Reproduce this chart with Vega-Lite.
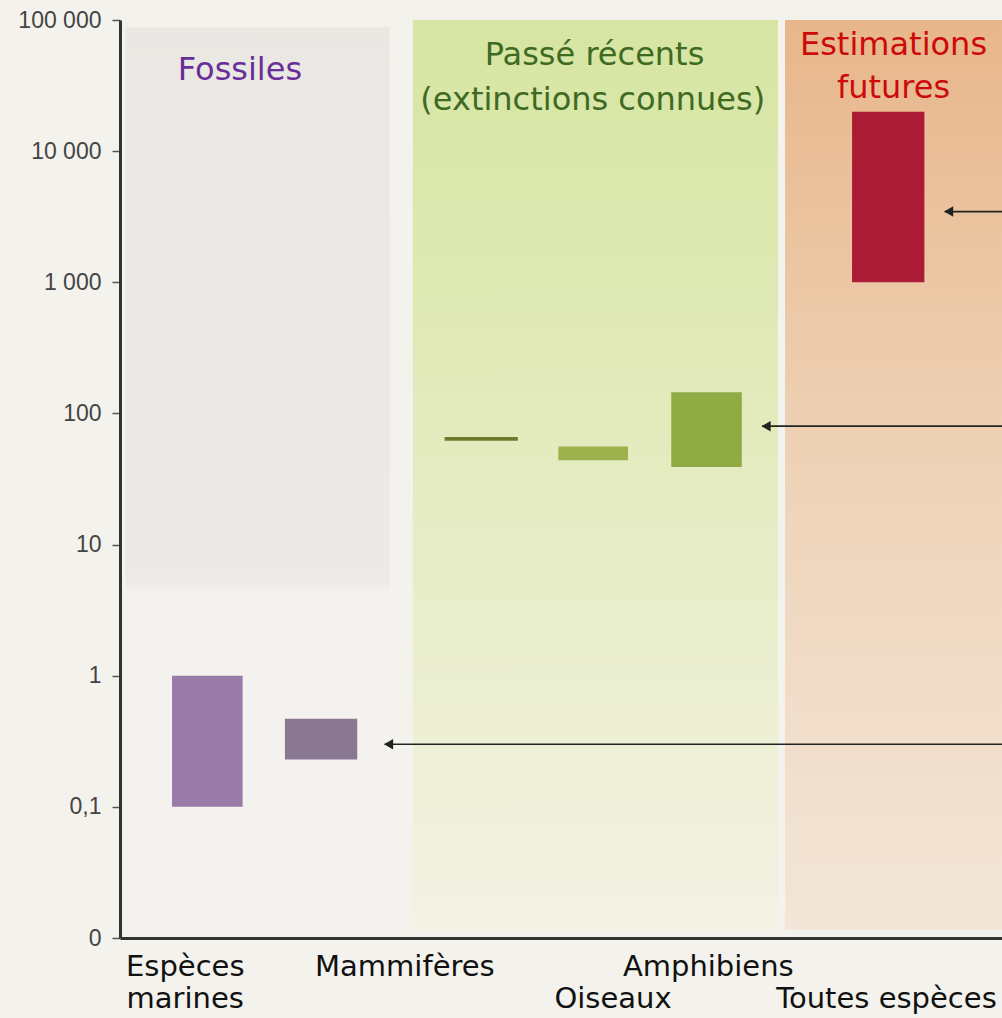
{
  "$schema": "https://vega.github.io/schema/vega-lite/v6.json",
  "width": 882,
  "height": 918,
  "autosize": {"type": "none"},
  "padding": {"left": 120, "top": 20, "right": 0, "bottom": 80},
  "background": "#f4f2ec",
  "config": {"view": {"stroke": null}},
  "resolve": {"scale": {"color": "independent"}},
  "datasets": {
    "panels": [
      {"panel": "Fossiles", "x0": 0.6, "x1": 30.6, "y0": 88000, "y1": 0.0115},
      {"panel": "Récents", "x0": 33.2, "x1": 74.6, "y0": 100000, "y1": 0.0115},
      {"panel": "Futures", "x0": 75.4, "x1": 100, "y0": 100000, "y1": 0.0115}
    ],
    "bars": [
      {"groupe": "Espèces marines (fossiles)", "x0": 5.9, "x1": 13.9, "min": 0.1, "max": 1},
      {"groupe": "Mammifères (fossiles)", "x0": 18.7, "x1": 26.9, "min": 0.23, "max": 0.47},
      {"groupe": "Mammifères (récents)", "x0": 36.8, "x1": 45.1, "min": 62, "max": 66},
      {"groupe": "Oiseaux", "x0": 49.7, "x1": 57.6, "min": 44, "max": 56},
      {"groupe": "Amphibiens", "x0": 62.5, "x1": 70.5, "min": 39, "max": 145},
      {"groupe": "Toutes espèces", "x0": 83.0, "x1": 91.2, "min": 1000, "max": 20000}
    ],
    "arrows": [
      {"x0": 93.5, "x1": 100, "v": 3460},
      {"x0": 72.8, "x1": 100, "v": 80},
      {"x0": 30.0, "x1": 100, "v": 0.30}
    ],
    "labels1": [
      {"t": "Espèces", "x": 7.4},
      {"t": "Mammifères", "x": 32.3},
      {"t": "Amphibiens", "x": 66.7}
    ],
    "labels2": [
      {"t": "marines", "x": 7.4},
      {"t": "Oiseaux", "x": 55.9},
      {"t": "Toutes espèces", "x": 86.9}
    ],
    "titles": [
      {"t": "Fossiles", "x": 13.6, "y": 41500, "g": "Fossiles"},
      {"t": "Passé récents", "x": 53.8, "y": 54000, "g": "Récents"},
      {"t": "(extinctions connues)", "x": 53.6, "y": 24500, "g": "Récents"},
      {"t": "Estimations", "x": 87.7, "y": 64500, "g": "Futures"},
      {"t": "futures", "x": 87.7, "y": 30200, "g": "Futures"}
    ]
  },
  "layer": [
    {
      "data": {"name": "panels"},
      "transform": [{"filter": "datum.panel == 'Fossiles'"}],
      "mark": {"type": "rect", "color": {"gradient": "linear", "x1": 0, "y1": 0, "x2": 0, "y2": 1,
        "stops": [{"offset": 0, "color": "#eae8e3"}, {"offset": 0.615, "color": "#eceae6"}, {"offset": 0.625, "color": "#f3f2ee"}, {"offset": 1, "color": "#f3f2ef"}]}},
      "encoding": {
        "x": {"field": "x0", "type": "quantitative", "scale": {"domain": [0, 100], "nice": false, "zero": false},
          "axis": {"labels": false, "ticks": false, "grid": false, "title": null, "domainWidth": 3, "domainColor": "#333"}},
        "x2": {"field": "x1"},
        "y": {"field": "y0", "type": "quantitative", "scale": {"type": "log", "domain": [0.01, 100000], "nice": false},
          "axis": {"values": [0.01, 0.1, 1, 10, 100, 1000, 10000, 100000], "grid": false, "title": null,
            "labelExpr": "datum.value == 100000 ? '100 000' : datum.value == 10000 ? '10 000' : datum.value == 1000 ? '1 000' : datum.value == 0.1 ? '0,1' : datum.value < 0.05 ? '0' : format(datum.value, 'd')",
            "labelFont": "Liberation Sans", "labelFontSize": 23, "labelColor": "#444", "tickSize": 8, "tickColor": "#555", "tickWidth": 1.5,
            "domainWidth": 3, "domainColor": "#333", "labelPadding": 11}},
        "y2": {"field": "y1"}
      }
    },
    {
      "data": {"name": "panels"},
      "transform": [{"filter": "datum.panel == 'Récents'"}],
      "mark": {"type": "rect", "color": {"gradient": "linear", "x1": 0, "y1": 0, "x2": 0, "y2": 1,
        "stops": [{"offset": 0, "color": "#d6e5a2"}, {"offset": 0.45, "color": "#e3ebbd"}, {"offset": 1, "color": "#f3f2e4"}]}},
      "encoding": {
        "x": {"field": "x0", "type": "quantitative"}, "x2": {"field": "x1"},
        "y": {"field": "y0", "type": "quantitative"}, "y2": {"field": "y1"}
      }
    },
    {
      "data": {"name": "panels"},
      "transform": [{"filter": "datum.panel == 'Futures'"}],
      "mark": {"type": "rect", "color": {"gradient": "linear", "x1": 0, "y1": 0, "x2": 0, "y2": 1,
        "stops": [{"offset": 0, "color": "#e8b68a"}, {"offset": 0.5, "color": "#eed3b8"}, {"offset": 1, "color": "#f3e6d8"}]}},
      "encoding": {
        "x": {"field": "x0", "type": "quantitative"}, "x2": {"field": "x1"},
        "y": {"field": "y0", "type": "quantitative"}, "y2": {"field": "y1"}
      }
    },
    {
      "data": {"name": "bars"},
      "mark": {"type": "rect"},
      "encoding": {
        "x": {"field": "x0", "type": "quantitative"}, "x2": {"field": "x1"},
        "y": {"field": "max", "type": "quantitative"}, "y2": {"field": "min"},
        "color": {"field": "groupe", "type": "nominal", "legend": null,
          "scale": {"domain": ["Espèces marines (fossiles)", "Mammifères (fossiles)", "Mammifères (récents)", "Oiseaux", "Amphibiens", "Toutes espèces"],
            "range": ["#9a7aa9", "#8a7791", "#6d7b2e", "#9db14c", "#8eab44", "#ac1b36"]}}
      }
    },
    {
      "data": {"name": "arrows"},
      "mark": {"type": "rule", "color": "#222", "strokeWidth": 1.6},
      "encoding": {
        "x": {"field": "x0", "type": "quantitative"}, "x2": {"field": "x1"},
        "y": {"field": "v", "type": "quantitative"}
      }
    },
    {
      "data": {"name": "arrows"},
      "mark": {"type": "point", "shape": "triangle-left", "filled": true, "color": "#222", "size": 110, "opacity": 1, "xOffset": 4},
      "encoding": {
        "x": {"field": "x0", "type": "quantitative"},
        "y": {"field": "v", "type": "quantitative"}
      }
    },
    {
      "data": {"name": "labels1"},
      "mark": {"type": "text", "font": "DejaVu Sans", "fontSize": 29, "color": "#111", "baseline": "top", "dy": 15, "clip": false},
      "encoding": {
        "x": {"field": "x", "type": "quantitative"},
        "y": {"datum": 0.01, "type": "quantitative"},
        "text": {"field": "t"}
      }
    },
    {
      "data": {"name": "labels2"},
      "mark": {"type": "text", "font": "DejaVu Sans", "fontSize": 29, "color": "#111", "baseline": "top", "dy": 47, "clip": false},
      "encoding": {
        "x": {"field": "x", "type": "quantitative"},
        "y": {"datum": 0.01, "type": "quantitative"},
        "text": {"field": "t"}
      }
    },
    {
      "data": {"name": "titles"},
      "mark": {"type": "text", "font": "DejaVu Sans", "fontSize": 32, "baseline": "middle"},
      "encoding": {
        "x": {"field": "x", "type": "quantitative"},
        "y": {"field": "y", "type": "quantitative"},
        "text": {"field": "t"},
        "color": {"field": "g", "type": "nominal", "legend": null,
          "scale": {"domain": ["Fossiles", "Récents", "Futures"], "range": ["#6a2e98", "#3e6a22", "#cc0a0a"]}}
      }
    }
  ]
}
